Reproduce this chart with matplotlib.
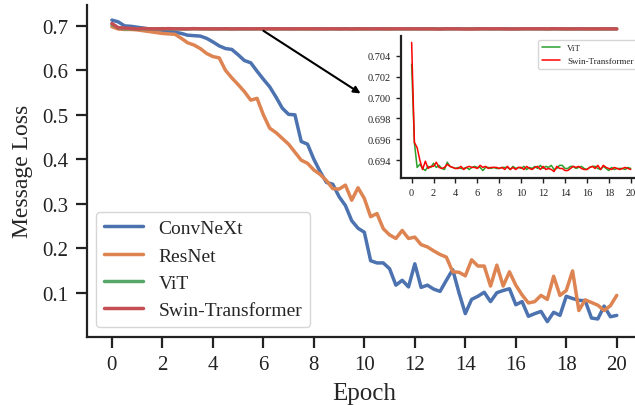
'''Message loss vs epoch for four backbones, with a zoomed inset for the transformers'''
import numpy as np
import seaborn as sns
from matplotlib import pyplot as plt
from matplotlib.ticker import MultipleLocator

# loss logged 4 times per epoch
epochs = np.linspace(0, 20, 81)

convnext = [0.713, 0.709, 0.700, 0.699, 0.697, 0.695, 0.693, 0.692, 0.690, 0.688,
            0.686, 0.683, 0.679, 0.678, 0.677, 0.672, 0.664, 0.655, 0.649, 0.647,
            0.635, 0.622, 0.617, 0.598, 0.580, 0.563, 0.540, 0.515, 0.501, 0.500,
            0.440, 0.434, 0.400, 0.372, 0.348, 0.344, 0.316, 0.296, 0.262, 0.245,
            0.236, 0.172, 0.167, 0.167, 0.154, 0.117, 0.128, 0.113, 0.165, 0.112,
            0.117, 0.108, 0.103, 0.128, 0.152, 0.100, 0.053, 0.085, 0.092, 0.101,
            0.080, 0.100, 0.105, 0.109, 0.073, 0.080, 0.047, 0.053, 0.058, 0.035,
            0.056, 0.049, 0.092, 0.087, 0.083, 0.082, 0.043, 0.041, 0.070, 0.046,
            0.049]

resnet = [0.698, 0.693, 0.692, 0.692, 0.691, 0.689, 0.687, 0.685, 0.683, 0.682,
          0.681, 0.672, 0.662, 0.657, 0.649, 0.638, 0.631, 0.628, 0.600, 0.583,
          0.568, 0.552, 0.533, 0.537, 0.500, 0.470, 0.460, 0.447, 0.434, 0.416,
          0.398, 0.391, 0.376, 0.366, 0.352, 0.334, 0.333, 0.342, 0.308, 0.336,
          0.312, 0.271, 0.278, 0.244, 0.230, 0.222, 0.240, 0.222, 0.225, 0.208,
          0.203, 0.194, 0.186, 0.180, 0.147, 0.146, 0.138, 0.174, 0.160, 0.160,
          0.115, 0.162, 0.115, 0.147, 0.117, 0.095, 0.077, 0.080, 0.094, 0.085,
          0.137, 0.094, 0.105, 0.149, 0.060, 0.084, 0.078, 0.072, 0.060, 0.071,
          0.094]

vit = [0.7032, 0.6957, 0.6933, 0.6936, 0.6932, 0.6930, 0.6934, 0.6933, 0.6937, 0.6933,
       0.6935, 0.6932, 0.6931, 0.6938, 0.6934, 0.6933, 0.6932, 0.6933, 0.6932, 0.6932,
       0.6933, 0.6931, 0.6933, 0.6934, 0.6933, 0.6933, 0.6930, 0.6933, 0.6933, 0.6932,
       0.6933, 0.6932, 0.6932, 0.6933, 0.6933, 0.6933, 0.6931, 0.6934, 0.6932, 0.6933,
       0.6932, 0.6934, 0.6931, 0.6933, 0.6932, 0.6934, 0.6932, 0.6935, 0.6932, 0.6934,
       0.6933, 0.6935, 0.6931, 0.6932, 0.6935, 0.6935, 0.6932, 0.6932, 0.6934, 0.6934,
       0.6932, 0.6933, 0.6934, 0.6932, 0.6931, 0.6933, 0.6934, 0.6934, 0.6932, 0.6931,
       0.6934, 0.6932, 0.6930, 0.6933, 0.6931, 0.6932, 0.6932, 0.6932, 0.6931, 0.6933,
       0.6932]

swin = [0.7053, 0.6957, 0.6952, 0.6940, 0.6931, 0.6939, 0.6932, 0.6934, 0.6934, 0.6938,
        0.6933, 0.6932, 0.6933, 0.6936, 0.6934, 0.6933, 0.6932, 0.6932, 0.6934, 0.6931,
        0.6933, 0.6934, 0.6933, 0.6933, 0.6932, 0.6935, 0.6933, 0.6934, 0.6932, 0.6933,
        0.6933, 0.6933, 0.6932, 0.6933, 0.6931, 0.6934, 0.6931, 0.6933, 0.6931, 0.6933,
        0.6933, 0.6931, 0.6934, 0.6932, 0.6931, 0.6933, 0.6934, 0.6931, 0.6934, 0.6931,
        0.6932, 0.6931, 0.6929, 0.6934, 0.6932, 0.6932, 0.6930, 0.6930, 0.6932, 0.6934,
        0.6933, 0.6934, 0.6932, 0.6931, 0.6931, 0.6933, 0.6934, 0.6932, 0.6935, 0.6931,
        0.6935, 0.6933, 0.6932, 0.6931, 0.6933, 0.6932, 0.6931, 0.6932, 0.6933, 0.6932,
        0.6931]

series = {'ConvNeXt': convnext, 'ResNet': resnet, 'ViT': vit, 'Swin-Transformer': swin}

sns.set_theme(style='ticks')
plt.rcParams['font.family'] = ['Liberation Serif', 'DejaVu Serif']
plt.rcParams['axes.edgecolor'] = '#222222'
colors = sns.color_palette('deep')

fig = plt.figure(figsize=(6.35, 4.06), dpi=100)
# the right edge runs a little past the canvas, as in the original crop
ax = fig.add_axes([0.1365, 0.1682, 0.8745, 0.817])

for (name, vals), col in zip(series.items(), colors):
    ax.plot(epochs, vals, color=col, lw=2.5, label=name)

ax.xaxis.set_major_locator(MultipleLocator(2))
ax.yaxis.set_major_locator(MultipleLocator(0.1))
ax.set_xlabel('Epoch', fontsize=18, labelpad=6)
ax.set_ylabel('Message Loss', fontsize=17, labelpad=7)
ax.tick_params(labelsize=15, length=8, width=1.6, pad=5, colors='#222222')
for side in ('left', 'bottom'):
    ax.spines[side].set_linewidth(1.6)
sns.despine(ax=ax)
ax.legend(loc='lower left', fontsize=14, frameon=True)

ax.annotate('', xy=(9.85, 0.548), xytext=(6.0, 0.689),
            arrowprops=dict(arrowstyle='-|>', color='black', lw=1.5,
                            mutation_scale=10, shrinkA=0, shrinkB=0))

# zoomed view of the two transformers
ins = fig.add_axes([0.631, 0.559, 0.3795, 0.35])
ins.plot(epochs, vit, color='tab:green', lw=1.1, label='ViT')
ins.plot(epochs, swin, color='red', lw=1.1, label='Swin-Transformer')
ins.xaxis.set_major_locator(MultipleLocator(2))
ins.yaxis.set_major_locator(MultipleLocator(0.002))
ins.tick_params(labelsize=7.5, length=3.5, width=1.0, colors='#222222')
for side in ('left', 'bottom'):
    ins.spines[side].set_linewidth(1.6)
sns.despine(ax=ins)
ins.legend(loc='upper right', fontsize=6.5)

fig.savefig('out.png', dpi=100)
